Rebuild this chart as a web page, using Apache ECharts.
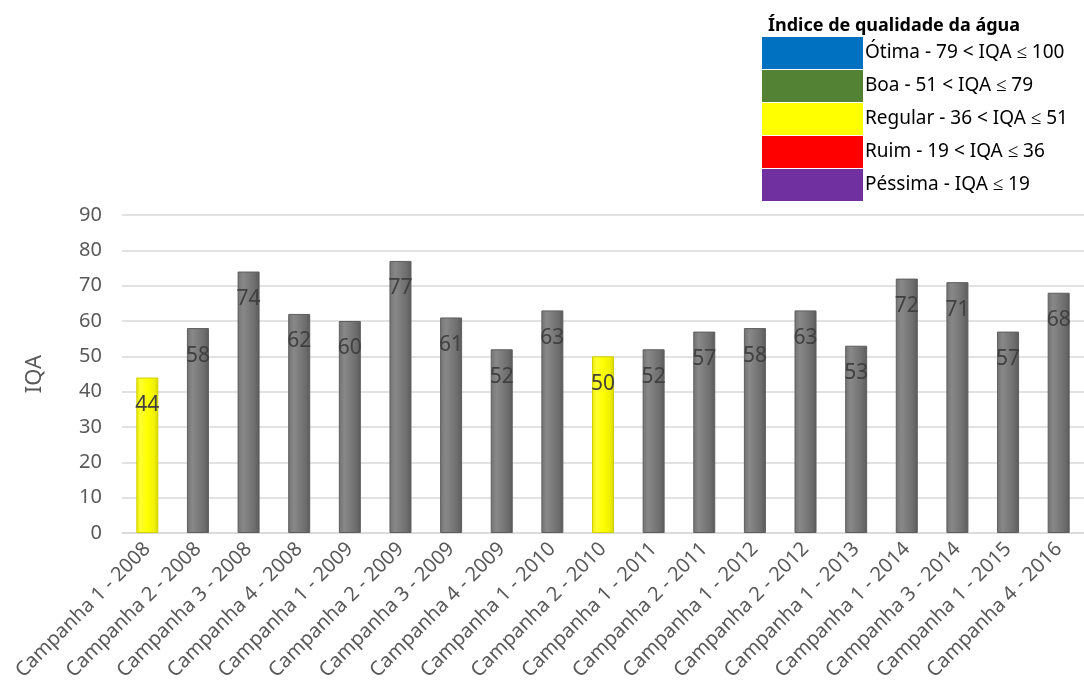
<!DOCTYPE html>
<html>
<head>
<meta charset="utf-8">
<script src="https://cdn.jsdelivr.net/npm/echarts@6/dist/echarts.min.js"></script>
<style>
    html, body {margin: 0; padding: 0; background: #ffffff;}
    #chart {width: 1084px; height: 697px;}
</style>
</head>
<body>
<div id="chart"></div>
<script>
const campaigns = [
    'Campanha 1 - 2008', 'Campanha 2 - 2008', 'Campanha 3 - 2008', 'Campanha 4 - 2008',
    'Campanha 1 - 2009', 'Campanha 2 - 2009', 'Campanha 3 - 2009', 'Campanha 4 - 2009',
    'Campanha 1 - 2010', 'Campanha 2 - 2010', 'Campanha 1 - 2011', 'Campanha 2 - 2011',
    'Campanha 1 - 2012', 'Campanha 2 - 2012', 'Campanha 1 - 2013', 'Campanha 1 - 2014',
    'Campanha 3 - 2014', 'Campanha 1 - 2015', 'Campanha 4 - 2016'
];
const iqa_values = [44, 58, 74, 62, 60, 77, 61, 52, 63, 50, 52, 57, 58, 63, 53, 72, 71, 57, 68];

const class_names = [
    'Ótima - 79 < IQA ≤ 100',
    'Boa - 51 < IQA ≤ 79',
    'Regular - 36 < IQA ≤ 51',
    'Ruim - 19 < IQA ≤ 36',
    'Péssima - IQA ≤ 19'
];
const class_colors = ['#0070c0', '#548235', '#ffff00', '#ff0000', '#7030a0'];

const font = 'Noto Sans';

function is_regular(v) {
    return v > 36 && v <= 51;
}

function bar_fill(value) {
    // only the "Regular" class is highlighted, others keep the grey bevel
    if (is_regular(value)) {
        return new echarts.graphic.LinearGradient(0, 0, 1, 0, [
            {offset: 0, color: '#e8e800'},
            {offset: 0.2, color: '#ffff33'},
            {offset: 0.5, color: '#ffff00'},
            {offset: 0.8, color: '#f2f200'},
            {offset: 1, color: '#d6d600'}
        ]);
    }
    return new echarts.graphic.LinearGradient(0, 0, 1, 0, [
        {offset: 0, color: '#727272'},
        {offset: 0.25, color: '#888888'},
        {offset: 0.5, color: '#7c7c7c'},
        {offset: 0.8, color: '#6c6c6c'},
        {offset: 1, color: '#595959'}
    ]);
}

let data = iqa_values.map((v) => ({
    value: v,
    itemStyle: {color: bar_fill(v), borderColor: is_regular(v) ? '#d0d000' : '#5e5e5e', borderWidth: 1}
}));

let series = [{
    name: 'IQA', type: 'bar', data: data, barWidth: 22,
    label: {
        show: true, position: 'insideTop', distance: 17,
        color: '#404040', fontFamily: font, fontSize: 21
    }
}];
for (let i = 0; i < class_names.length; i++) {
    series.push({name: class_names[i], type: 'line', data: [], color: class_colors[i]});
}

let option = {
    backgroundColor: '#ffffff',
    animation: false,
    title: {
        text: 'Índice de qualidade da água',
        left: 763, top: 12,
        textStyle: {fontFamily: font, fontSize: 18, fontWeight: 'bold', color: '#000000'}
    },
    legend: {
        data: class_names,
        orient: 'vertical', left: 762, top: 37, padding: 0,
        icon: 'rect', itemWidth: 101, itemHeight: 32, itemGap: 1,
        selectedMode: false,
        textStyle: {fontFamily: font, fontSize: 19, color: '#000000', padding: [0, 0, 0, -3]}
    },
    grid: {left: 122, top: 215, width: 968, height: 318, containLabel: false},
    xAxis: {
        type: 'category', data: campaigns,
        axisLine: {lineStyle: {color: '#d9d9d9', width: 1.5}},
        axisTick: {show: false},
        axisLabel: {rotate: 45, interval: 0, margin: 13, color: '#595959', fontFamily: font, fontSize: 20}
    },
    yAxis: {
        type: 'value', min: 0, max: 90, interval: 10,
        name: 'IQA', nameLocation: 'middle', nameGap: 76, nameRotate: 90,
        nameTextStyle: {color: '#595959', fontFamily: font, fontSize: 22},
        axisLine: {show: false}, axisTick: {show: false},
        axisLabel: {margin: 20, color: '#595959', fontFamily: font, fontSize: 20},
        splitLine: {lineStyle: {color: '#d9d9d9', width: 1.5}}
    },
    series: series
};

let my_chart = echarts.init(document.getElementById('chart'));
my_chart.setOption(option);
</script>
</body>
</html>
